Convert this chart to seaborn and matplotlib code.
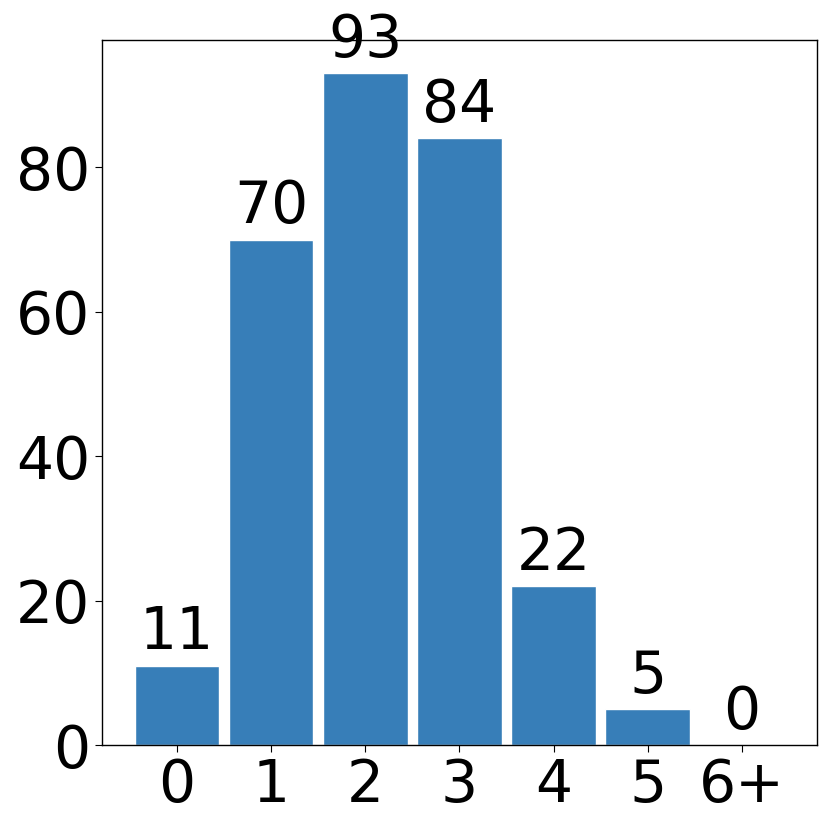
import matplotlib
matplotlib.use("Agg")
import matplotlib.pyplot as plt
import seaborn as sns
import pandas as pd

categories = ["0", "1", "2", "3", "4", "5", "6+"]
counts = [11, 70, 93, 84, 22, 5, 0]

df = pd.DataFrame({"k": categories, "count": counts})

sns.set_style("ticks", rc={"text.color": "black", "xtick.color": "black",
                           "ytick.color": "black", "axes.edgecolor": "black",
                           "axes.labelcolor": "black"})
plt.rcParams["font.family"] = ["DejaVu Sans"]

fig = plt.figure(figsize=(8.3, 8.3), dpi=100)
ax = fig.add_axes([0.123, 0.1024, 0.861, 0.8496])
sns.barplot(data=df, x="k", y="count", color="#377eb8", saturation=1,
            width=0.9, edgecolor="white", linewidth=1, ax=ax)

for c in ax.containers:
    ax.bar_label(c, fontsize=42, padding=3, color="black")

ax.set_xlim(-0.795, 6.795)
ax.set_ylim(0, 97.65)
ax.set_yticks([0, 20, 40, 60, 80])
ax.set_xlabel("")
ax.set_ylabel("")
ax.tick_params(labelsize=42, length=5, colors="black")
for s in ax.spines.values():
    s.set_visible(True)
    s.set_color("black")
    s.set_linewidth(1)

fig.savefig("out.png", dpi=100)
